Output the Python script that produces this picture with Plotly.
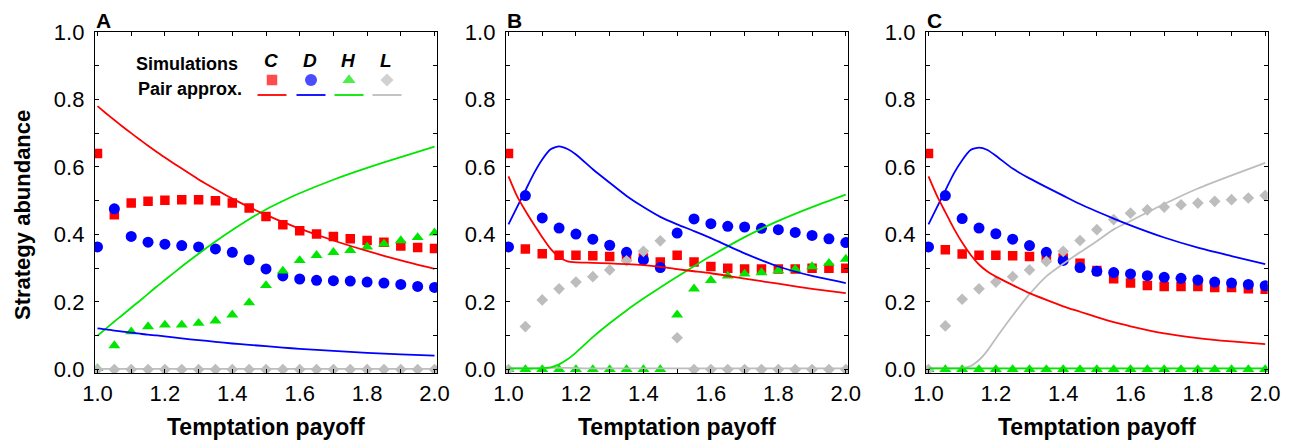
import plotly.graph_objects as go

W, H = 1293, 441
OFF = 8  # default page body margin shifts the figure by 8 px

# ---------------- data ----------------
temptation = [1.0, 1.05, 1.1, 1.15, 1.2, 1.25, 1.3, 1.35, 1.4, 1.45, 1.5,
              1.55, 1.6, 1.65, 1.7, 1.75, 1.8, 1.85, 1.9, 1.95, 2.0]
pair_grid = [1.0, 1.025, 1.05, 1.075, 1.1, 1.125, 1.15, 1.175, 1.2, 1.25, 1.3,
             1.35, 1.4, 1.45, 1.5, 1.55, 1.6, 1.7, 1.8, 1.9, 2.0]

# Panel A simulations
sim_A_C = [0.64, 0.458, 0.493, 0.498, 0.501, 0.503, 0.503, 0.500, 0.493, 0.478, 0.453,
           0.429, 0.411, 0.401, 0.394, 0.387, 0.382, 0.377, 0.366, 0.361, 0.358]
sim_A_D = [0.363, 0.476, 0.394, 0.377, 0.371, 0.367, 0.363, 0.357, 0.347, 0.325, 0.298,
           0.277, 0.268, 0.264, 0.263, 0.262, 0.259, 0.256, 0.252, 0.246, 0.243]
sim_A_H = [0.003, 0.071, 0.112, 0.127, 0.132, 0.132, 0.137, 0.144, 0.162, 0.198, 0.249,
           0.292, 0.323, 0.338, 0.347, 0.353, 0.363, 0.372, 0.382, 0.391, 0.405]
sim_A_L = [0.0, 0.0, 0.0, 0.0, 0.0, 0.0, 0.0, 0.0, 0.0, 0.0, 0.0,
           0.0, 0.0, 0.0, 0.0, 0.0, 0.0, 0.0, 0.0, 0.0, 0.0]
# Panel A pair approximation
pair_A_C = [0.78, 0.759, 0.739, 0.719, 0.70, 0.681, 0.663, 0.645, 0.628, 0.595, 0.563,
            0.534, 0.506, 0.481, 0.458, 0.437, 0.417, 0.382, 0.351, 0.323, 0.298]
pair_A_D = [0.122, 0.119, 0.115, 0.112, 0.109, 0.106, 0.103, 0.101, 0.098, 0.092, 0.087,
            0.082, 0.077, 0.073, 0.069, 0.065, 0.061, 0.055, 0.049, 0.045, 0.041]
pair_A_H = [0.10, 0.121, 0.142, 0.162, 0.183, 0.203, 0.224, 0.245, 0.265, 0.305, 0.343,
            0.379, 0.413, 0.445, 0.474, 0.499, 0.522, 0.562, 0.597, 0.629, 0.66]
pair_A_L = [0.002, 0.002, 0.002, 0.002, 0.002, 0.002, 0.002, 0.002, 0.002, 0.002, 0.002,
            0.002, 0.002, 0.002, 0.002, 0.002, 0.002, 0.002, 0.002, 0.002, 0.002]

# Panel B simulations
sim_B_C = [0.64, 0.357, 0.343, 0.338, 0.338, 0.337, 0.335, 0.334, 0.33, 0.318, 0.338,
           0.318, 0.305, 0.30, 0.298, 0.298, 0.298, 0.298, 0.30, 0.30, 0.30]
sim_B_D = [0.363, 0.515, 0.449, 0.419, 0.401, 0.386, 0.368, 0.347, 0.325, 0.302, 0.404,
           0.446, 0.432, 0.424, 0.422, 0.418, 0.414, 0.406, 0.397, 0.387, 0.376]
sim_B_H = [0.0, 0.0, 0.0, 0.0, 0.0, 0.0, 0.0, 0.0, 0.0, 0.0, 0.162,
           0.239, 0.264, 0.277, 0.283, 0.287, 0.293, 0.297, 0.305, 0.315, 0.327]
sim_B_L = [0.0, 0.127, 0.206, 0.239, 0.259, 0.275, 0.295, 0.322, 0.35, 0.381, 0.094,
           0.0, 0.0, 0.0, 0.0, 0.0, 0.0, 0.0, 0.0, 0.0, 0.0]
# Panel B pair approximation
pair_B_C = [0.572, 0.514, 0.47, 0.43, 0.392, 0.357, 0.333, 0.32, 0.317, 0.316, 0.314,
            0.312, 0.309, 0.304, 0.297, 0.291, 0.285, 0.269, 0.254, 0.239, 0.226]
pair_B_D = [0.43, 0.48, 0.53, 0.58, 0.622, 0.652, 0.661, 0.653, 0.637, 0.593, 0.553,
            0.514, 0.481, 0.452, 0.43, 0.41, 0.389, 0.344, 0.305, 0.277, 0.256]
pair_B_H = [0.003, 0.003, 0.003, 0.003, 0.004, 0.006, 0.015, 0.03, 0.05, 0.096, 0.137,
            0.175, 0.21, 0.243, 0.275, 0.306, 0.336, 0.392, 0.44, 0.481, 0.518]
pair_B_L = [0.003, 0.003, 0.003, 0.003, 0.004, 0.005, 0.005, 0.005, 0.004, 0.003, 0.003,
            0.003, 0.003, 0.003, 0.003, 0.003, 0.003, 0.003, 0.003, 0.003, 0.003]

# Panel C simulations
sim_C_C = [0.64, 0.355, 0.342, 0.338, 0.338, 0.337, 0.335, 0.334, 0.33, 0.315, 0.293,
           0.269, 0.256, 0.249, 0.246, 0.246, 0.246, 0.243, 0.243, 0.239, 0.238]
sim_C_D = [0.363, 0.515, 0.447, 0.419, 0.402, 0.386, 0.367, 0.347, 0.323, 0.302, 0.291,
           0.287, 0.283, 0.278, 0.273, 0.27, 0.265, 0.259, 0.256, 0.252, 0.248]
sim_C_H = [0.0, 0.0, 0.0, 0.0, 0.0, 0.0, 0.0, 0.0, 0.0, 0.0, 0.0,
           0.0, 0.0, 0.0, 0.0, 0.0, 0.0, 0.0, 0.0, 0.0, 0.0]
sim_C_L = [0.0, 0.129, 0.208, 0.239, 0.259, 0.275, 0.295, 0.32, 0.35, 0.382, 0.414,
           0.444, 0.463, 0.473, 0.481, 0.488, 0.493, 0.498, 0.503, 0.508, 0.515]
# Panel C pair approximation
pair_C_C = [0.572, 0.515, 0.466, 0.418, 0.376, 0.34, 0.311, 0.29, 0.275, 0.25, 0.226,
            0.206, 0.187, 0.171, 0.155, 0.14, 0.128, 0.107, 0.093, 0.083, 0.075]
pair_C_D = [0.43, 0.48, 0.53, 0.58, 0.62, 0.65, 0.657, 0.65, 0.633, 0.595, 0.566,
            0.54, 0.515, 0.49, 0.468, 0.447, 0.427, 0.391, 0.361, 0.336, 0.312]
pair_C_H = [0.003, 0.003, 0.003, 0.003, 0.003, 0.003, 0.003, 0.003, 0.003, 0.003, 0.003,
            0.003, 0.003, 0.003, 0.003, 0.003, 0.003, 0.003, 0.003, 0.003, 0.003]
pair_C_L = [0.003, 0.003, 0.003, 0.003, 0.004, 0.01, 0.028, 0.056, 0.092, 0.16, 0.223,
            0.276, 0.313, 0.347, 0.38, 0.415, 0.44, 0.49, 0.536, 0.575, 0.612]

strategies = ["C", "D", "H", "L"]
panel_labels = ["A", "B", "C"]
x_tick_vals = [1.0, 1.1, 1.2, 1.3, 1.4, 1.5, 1.6, 1.7, 1.8, 1.9, 2.0]
x_tick_text = ["1.0", "", "1.2", "", "1.4", "", "1.6", "", "1.8", "", "2.0"]
y_tick_vals = [0.0, 0.1, 0.2, 0.3, 0.4, 0.5, 0.6, 0.7, 0.8, 0.9, 1.0]
y_tick_text = ["0.0", "", "0.2", "", "0.4", "", "0.6", "", "0.8", "", "1.0"]

# ---------------- style ----------------
FONT = "Liberation Sans, Arial, Helvetica, sans-serif"
colors = {"C": "#ff0000", "D": "#0000ff", "H": "#00e600", "L": "#bdbdbd"}
symbols = {"C": "square", "D": "circle", "H": "triangle-up", "L": "diamond"}
sizes = {"C": 9.5, "D": 11, "H": 10.5, "L": 9}


def px(x):
    """screen pixel x -> paper fraction"""
    return (x - OFF) / W


def py(y):
    """screen pixel y -> paper fraction"""
    return 1 - (y - OFF) / H


sims = [
    {"C": sim_A_C, "D": sim_A_D, "H": sim_A_H, "L": sim_A_L},
    {"C": sim_B_C, "D": sim_B_D, "H": sim_B_H, "L": sim_B_L},
    {"C": sim_C_C, "D": sim_C_D, "H": sim_C_H, "L": sim_C_L},
]
pairs = [
    {"C": pair_A_C, "D": pair_A_D, "H": pair_A_H, "L": pair_A_L},
    {"C": pair_B_C, "D": pair_B_D, "H": pair_B_H, "L": pair_B_L},
    {"C": pair_C_C, "D": pair_C_D, "H": pair_C_H, "L": pair_C_L},
]

# panel frames in screen pixels (left, right); shared top/bottom
frames_px = [(95, 437), (506, 848.3), (926, 1267.7)]
top_px, bot_px = 31.7, 373.3

fig = go.Figure()

for i in range(3):
    xa = "x" if i == 0 else f"x{i+1}"
    ya = "y" if i == 0 else f"y{i+1}"
    for s in strategies:
        fig.add_trace(go.Scatter(
            x=temptation, y=sims[i][s], mode="markers", xaxis=xa, yaxis=ya,
            marker=dict(symbol=symbols[s], size=sizes[s], color=colors[s],
                        line=dict(width=0)),
            hoverinfo="skip", showlegend=False))
    for s in ["L", "H", "D", "C"]:
        fig.add_trace(go.Scatter(
            x=pair_grid, y=pairs[i][s], mode="lines", xaxis=xa, yaxis=ya,
            line=dict(color=colors[s], width=1.8, shape="spline", smoothing=0.6),
            hoverinfo="skip", showlegend=False))

# legend key markers on a full-figure pixel-coordinate axis pair
leg_x = [272, 311, 349, 387]
fig.add_trace(go.Scatter(
    x=leg_x, y=[80, 80, 80, 80], mode="markers", xaxis="x4", yaxis="y4",
    marker=dict(symbol=[symbols[s] for s in strategies],
                size=[sizes[s] + 1 for s in strategies],
                color=[colors[s] for s in strategies], line=dict(width=0)),
    hoverinfo="skip", showlegend=False))

axis_common = dict(
    showline=True, linecolor="black", linewidth=1.3, mirror="ticks",
    ticks="inside", ticklen=4, tickwidth=1.2, tickcolor="black",
    showgrid=False, zeroline=False, automargin=False,
    tickfont=dict(family=FONT, size=22, color="black"),
)

layout = dict(
    width=W, height=H, margin=dict(l=0, r=0, t=0, b=0),
    paper_bgcolor="white", plot_bgcolor="rgba(0,0,0,0)", showlegend=False,
)
for i, (l, r) in enumerate(frames_px):
    xk = "xaxis" if i == 0 else f"xaxis{i+1}"
    yk = "yaxis" if i == 0 else f"yaxis{i+1}"
    xa = "x" if i == 0 else f"x{i+1}"
    ya = "y" if i == 0 else f"y{i+1}"
    layout[xk] = dict(axis_common, domain=[px(l), px(r)], range=[0.9926, 2.0074],
                      anchor=ya, tickvals=x_tick_vals, ticktext=x_tick_text,
                      ticklabelstandoff=0)
    layout[yk] = dict(axis_common, domain=[py(bot_px), py(top_px)],
                      range=[-0.0113, 1.0005], anchor=xa,
                      tickvals=y_tick_vals, ticktext=y_tick_text,
                      ticklabelstandoff=5)
layout["xaxis4"] = dict(domain=[0, 1], range=[OFF, W + OFF], visible=False, anchor="y4",
                        fixedrange=True)
layout["yaxis4"] = dict(domain=[0, 1], range=[H + OFF, OFF], visible=False, anchor="x4",
                        fixedrange=True)
fig.update_layout(**layout)

ann = []
# axis titles
for (l, r) in frames_px:
    ann.append(dict(x=px((l + r) / 2), y=py(426.5), xref="paper", yref="paper",
                    text="<b>Temptation payoff</b>",
                    showarrow=False, font=dict(family=FONT, size=23, color="black"),
                    xanchor="center", yanchor="middle"))
ann.append(dict(x=px(22), y=py(215), xref="paper", yref="paper",
                text="<b>Strategy abundance</b>",
                textangle=-90, showarrow=False,
                font=dict(family=FONT, size=22, color="black"),
                xanchor="center", yanchor="middle"))
# panel letters (box kept inside the figure's top edge)
for lab, (l, r) in zip(panel_labels, frames_px):
    ann.append(dict(x=px(l), y=py(8.5), xref="paper", yref="paper", text=f"<b>{lab}</b>",
                    showarrow=False, font=dict(family=FONT, size=21, color="black"),
                    xanchor="left", yanchor="top", borderpad=0))
# legend texts
ann.append(dict(x=px(134), y=py(64.5), xref="paper", yref="paper",
                text="<b>Simulations</b>",
                showarrow=False, font=dict(family=FONT, size=18, color="black"),
                xanchor="left", yanchor="middle"))
ann.append(dict(x=px(136), y=py(89), xref="paper", yref="paper",
                text="<b>Pair approx.</b>",
                showarrow=False, font=dict(family=FONT, size=18, color="black"),
                xanchor="left", yanchor="middle"))
for s, lx in zip(strategies, leg_x):
    ann.append(dict(x=px(lx - 1), y=py(60), xref="paper", yref="paper",
                    text=f"<b><i>{s}</i></b>",
                    showarrow=False, font=dict(family=FONT, size=19, color="black"),
                    xanchor="center", yanchor="middle"))

shapes = []
for s, lx in zip(strategies, leg_x):
    shapes.append(dict(type="line", xref="paper", yref="paper",
                       x0=px(lx - 14.5), x1=px(lx + 14.5),
                       y0=py(95), y1=py(95), line=dict(color=colors[s], width=1.8)))

fig.update_layout(annotations=ann, shapes=shapes)

fig.write_html("out.html")
